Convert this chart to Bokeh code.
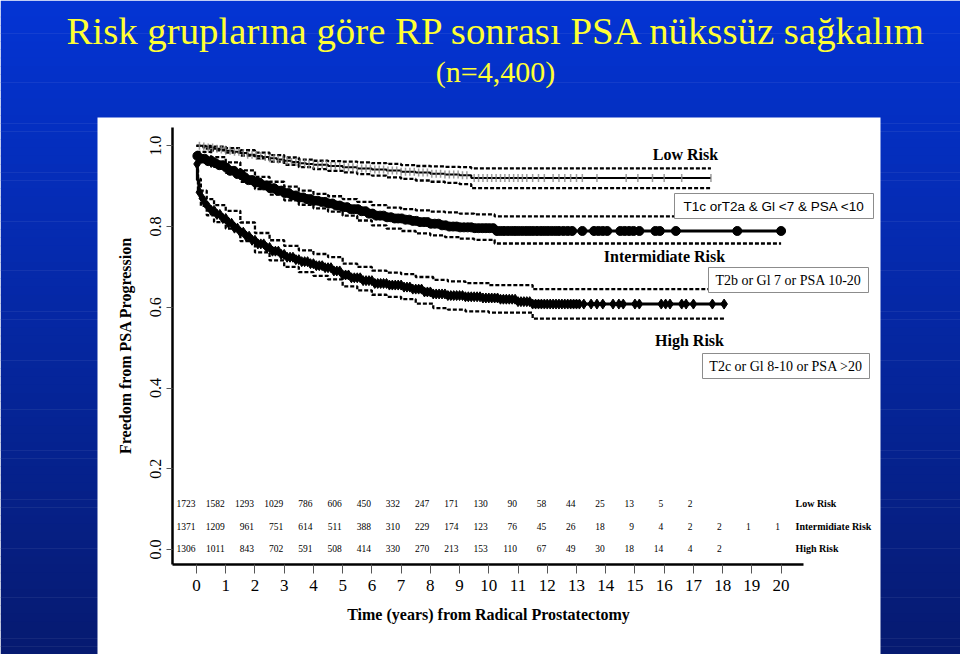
import numpy as np
from bokeh.plotting import figure
from bokeh.models import Range1d, LinearAxis, FixedTicker, Grid
from bokeh.core.properties import value
from bokeh.embed import file_html
from bokeh.resources import INLINE

# ---------------- data ----------------
title_main = "Risk gruplarına göre RP sonrası PSA nükssüz sağkalım"
title_sub = "(n=4,400)"
y_label = "Freedom from PSA Progression"
x_label = "Time (years) from Radical Prostatectomy"
x_ticks = list(range(21))
y_ticks = [0.0, 0.2, 0.4, 0.6, 0.8, 1.0]
y_tick_labels = ["0.0", "0.2", "0.4", "0.6", "0.8", "1.0"]

# Low risk Kaplan-Meier curve
low_t = [0.0, 0.2, 0.4, 0.6, 0.8, 1.0, 1.25, 1.5, 1.75, 2.0, 2.25, 2.5, 2.75, 3.0, 3.25, 3.5, 3.75,
         4.0, 4.5, 5.0, 5.5, 6.0, 6.5, 7.0, 7.5, 8.0, 8.5, 9.0, 9.4, 17.6]
low_s = [1.000, 0.998, 0.996, 0.993, 0.991, 0.988, 0.985, 0.982, 0.978, 0.975, 0.972, 0.969, 0.966,
         0.963, 0.960, 0.957, 0.955, 0.953, 0.950, 0.947, 0.944, 0.941, 0.939, 0.936, 0.934, 0.931,
         0.929, 0.927, 0.920, 0.920]
# Low risk 95% CI
low_ci_t = [0.0, 0.25, 0.5, 1.0, 1.5, 2.0, 2.5, 3.0, 3.5, 4.0, 4.5, 5.0, 5.5, 6.0, 6.5, 7.0, 7.5, 8.0, 8.5, 9.0, 9.4, 17.6]
low_up = [1.000, 1.000, 0.998, 0.994, 0.989, 0.983, 0.977, 0.971, 0.966, 0.963, 0.962, 0.961, 0.959, 0.957, 0.955, 0.952, 0.950, 0.949, 0.948, 0.947, 0.944, 0.944]
low_lo = [1.000, 0.993, 0.989, 0.983, 0.976, 0.969, 0.961, 0.953, 0.947, 0.942, 0.938, 0.934, 0.930, 0.926, 0.922, 0.918, 0.914, 0.911, 0.908, 0.905, 0.895, 0.895]
low_cens = [0.1, 0.25, 0.4, 0.55, 0.7, 0.85, 1.0, 1.15, 1.3, 1.45, 1.6, 1.75, 1.9, 2.05, 2.2, 2.35, 2.5,
            2.65, 2.8, 2.95, 3.1, 3.25, 3.4, 3.55, 3.7, 3.85, 4.0, 4.15, 4.3, 4.45, 4.6, 4.75, 4.9,
            5.05, 5.2, 5.35, 5.5, 5.65, 5.8, 5.95, 6.1, 6.25, 6.4, 6.55, 6.7, 6.85, 7.0, 7.15, 7.3,
            7.45, 7.6, 7.75, 7.9, 8.05, 8.2, 8.35, 8.5, 8.65, 8.8, 8.95, 9.1, 9.25, 9.5, 9.65, 9.8,
            9.95, 10.1, 10.25, 10.4, 10.55, 10.7, 10.85, 11.0, 11.15, 11.3, 11.5, 11.7, 11.9, 12.2,
            12.4, 12.6, 12.8, 13.0, 13.2, 13.7, 14.7, 15.1, 15.6, 16.0, 16.6, 17.6]

# Intermediate risk
int_t = [0.0, 0.15, 0.35, 0.55, 0.75, 0.95, 1.15, 1.35, 1.55, 1.75, 1.95, 2.2, 2.45, 2.7, 2.95, 3.2,
         3.45, 3.7, 3.95, 4.2, 4.45, 4.7, 4.95, 5.25, 5.55, 5.85, 6.15, 6.45, 6.75, 7.05, 7.35, 7.65,
         7.95, 8.3, 8.65, 9.0, 9.5, 10.2, 20.0]
int_s = [0.975, 0.968, 0.962, 0.957, 0.952, 0.946, 0.938, 0.930, 0.922, 0.915, 0.909, 0.902, 0.895,
         0.889, 0.883, 0.877, 0.872, 0.868, 0.864, 0.861, 0.857, 0.852, 0.848, 0.843, 0.838, 0.832,
         0.827, 0.823, 0.820, 0.817, 0.814, 0.811, 0.807, 0.803, 0.800, 0.798, 0.796, 0.789, 0.789]
int_ci_t = [0.0, 0.5, 1.0, 1.5, 2.0, 2.5, 3.0, 3.5, 4.0, 4.5, 5.0, 5.5, 6.0, 6.5, 7.0, 7.5, 8.0, 8.5, 9.0, 9.5, 10.2, 20.0]
int_up = [0.985, 0.972, 0.959, 0.939, 0.923, 0.911, 0.899, 0.889, 0.881, 0.875, 0.868, 0.861, 0.853, 0.847, 0.843, 0.840, 0.837, 0.835, 0.832, 0.830, 0.825, 0.825]
int_lo = [0.965, 0.948, 0.933, 0.911, 0.893, 0.879, 0.865, 0.854, 0.845, 0.837, 0.827, 0.815, 0.803, 0.795, 0.789, 0.783, 0.778, 0.774, 0.770, 0.767, 0.758, 0.758]
int_cens = [0.03, 0.15, 0.28, 0.4, 0.52, 0.65, 0.78, 0.9, 1.02, 1.15, 1.28, 1.4, 1.52, 1.65, 1.78, 1.9,
            2.02, 2.15, 2.28, 2.4, 2.52, 2.65, 2.78, 2.9, 3.02, 3.15, 3.28, 3.4, 3.52, 3.65, 3.78,
            3.9, 4.02, 4.15, 4.28, 4.4, 4.52, 4.65, 4.78, 4.9, 5.02, 5.15, 5.28, 5.4, 5.52, 5.65,
            5.78, 5.9, 6.02, 6.15, 6.28, 6.4, 6.52, 6.65, 6.78, 6.9, 7.02, 7.15, 7.28, 7.4, 7.52,
            7.65, 7.78, 7.9, 8.02, 8.15, 8.28, 8.4, 8.52, 8.65, 8.78, 8.9, 9.02, 9.15, 9.28, 9.4,
            9.52, 9.65, 9.78, 9.9, 10.02, 10.15, 10.28, 10.4, 10.52, 10.65, 10.78, 10.9, 11.02,
            11.15, 11.28, 11.4, 11.52, 11.65, 11.78, 11.9, 12.02, 12.15, 12.28, 12.4, 12.55, 12.7,
            12.85, 13.2, 13.6, 13.75, 13.9, 14.05, 14.5, 14.65, 14.8, 14.95, 15.15, 15.7, 15.85,
            16.4, 18.5, 20.0]

# High risk
high_t = [0.0, 0.03, 0.08, 0.15, 0.25, 0.35, 0.5, 0.7, 0.9, 1.1, 1.3, 1.5, 1.7, 1.9, 2.1, 2.35, 2.6,
          2.85, 3.1, 3.35, 3.6, 3.85, 4.1, 4.4, 4.7, 4.95, 5.3, 5.7, 6.1, 6.6, 7.1, 7.4, 7.8, 8.1,
          8.6, 9.2, 9.8, 10.4, 11.0, 11.5, 18.1]
high_s = [0.955, 0.915, 0.885, 0.870, 0.858, 0.849, 0.840, 0.830, 0.820, 0.808, 0.796, 0.786, 0.776,
          0.766, 0.757, 0.748, 0.739, 0.731, 0.724, 0.718, 0.713, 0.708, 0.703, 0.698, 0.690, 0.680,
          0.673, 0.666, 0.659, 0.655, 0.650, 0.645, 0.638, 0.633, 0.629, 0.626, 0.623, 0.620, 0.614,
          0.608, 0.608]
high_ci_t = [0.0, 0.05, 0.15, 0.35, 0.6, 1.0, 1.5, 2.0, 2.5, 3.0, 3.5, 4.0, 4.5, 5.0, 5.5, 6.0, 6.5, 7.0, 7.5, 8.1, 8.6, 9.2, 10.0, 11.5, 18.1]
high_up = [0.970, 0.918, 0.889, 0.868, 0.853, 0.839, 0.810, 0.784, 0.766, 0.752, 0.741, 0.732, 0.724, 0.708, 0.700, 0.691, 0.686, 0.682, 0.675, 0.668, 0.664, 0.660, 0.655, 0.645, 0.645]
high_lo = [0.940, 0.882, 0.851, 0.828, 0.811, 0.795, 0.764, 0.736, 0.716, 0.700, 0.687, 0.678, 0.669, 0.652, 0.642, 0.631, 0.626, 0.620, 0.609, 0.598, 0.594, 0.590, 0.587, 0.572, 0.572]
high_cens = [0.02, 0.1, 0.2, 0.3, 0.4, 0.5, 0.6, 0.7, 0.8, 0.9, 1.0, 1.1, 1.2, 1.3, 1.4, 1.5, 1.6, 1.7,
             1.8, 1.9, 2.0, 2.1, 2.2, 2.3, 2.4, 2.5, 2.6, 2.7, 2.8, 2.9, 3.0, 3.1, 3.2, 3.3, 3.4, 3.5,
             3.6, 3.7, 3.8, 3.9, 4.0, 4.1, 4.2, 4.3, 4.4, 4.5, 4.6, 4.7, 4.8, 4.9, 5.0, 5.1, 5.2, 5.3,
             5.4, 5.5, 5.6, 5.7, 5.8, 5.9, 6.0, 6.1, 6.2, 6.3, 6.4, 6.5, 6.6, 6.7, 6.8, 6.9, 7.0, 7.1,
             7.2, 7.3, 7.4, 7.5, 7.6, 7.7, 7.8, 7.9, 8.0, 8.1, 8.2, 8.3, 8.4, 8.5, 8.6, 8.7, 8.8, 8.9,
             9.0, 9.1, 9.2, 9.3, 9.4, 9.5, 9.6, 9.7, 9.8, 9.9, 10.0, 10.1, 10.2, 10.3, 10.4, 10.5,
             10.6, 10.7, 10.8, 10.9, 11.0, 11.1, 11.2, 11.3, 11.4, 11.5, 11.6, 11.7, 11.8, 11.9, 12.0,
             12.1, 12.2, 12.3, 12.4, 12.5, 12.6, 12.7, 12.8, 12.9, 13.0, 13.1, 13.25, 13.5, 13.7,
             13.9, 14.25, 14.45, 14.6, 15.0, 15.15, 15.9, 16.05, 16.2, 16.6, 16.75, 17.0, 17.65, 18.05]

# Numbers at risk
risk_rows = ["Low Risk", "Intermidiate Risk", "High Risk"]
n_low = [1723, 1582, 1293, 1029, 786, 606, 450, 332, 247, 171, 130, 90, 58, 44, 25, 13, 5, 2]
n_int = [1371, 1209, 961, 751, 614, 511, 388, 310, 229, 174, 123, 76, 45, 26, 18, 9, 4, 2, 2, 1, 1]
n_high = [1306, 1011, 843, 702, 591, 508, 414, 330, 270, 213, 153, 110, 67, 49, 30, 18, 14, 4, 2]

group_names = ["Low Risk", "Intermidiate Risk", "High Risk"]
group_defs = ["T1c orT2a & Gl <7 & PSA <10", "T2b or Gl 7 or PSA 10-20", "T2c or Gl 8-10 or PSA >20"]

# ---------------- layout constants (pixels) ----------------
W, H = 960, 654
X0, PXY = 196.0, 29.23      # pixel of t=0, pixels per year
Y0, PYV = 549.0, 403.7      # pixel of S=0, pixels per unit survival
SERIF = value("Liberation Serif")
SANS = value("Liberation Sans")


def t_of(px):
    return (px - X0) / PXY


def s_of(py):
    return (Y0 - py) / PYV


p = figure(width=W, height=H, output_backend="svg", toolbar_location=None,
           x_range=Range1d(t_of(0), t_of(W)), y_range=Range1d(s_of(H), s_of(0)),
           x_axis_location=None, y_axis_location=None, min_border=0,
           outline_line_color=None, background_fill_color="white", border_fill_color="#0a2a9a")
p.center = [c for c in p.center if not isinstance(c, Grid)]
p.extra_x_ranges = {"px": Range1d(0, W)}
p.extra_y_ranges = {"py": Range1d(H, 0)}

# background gradient and white panel
n_band = 80
edges = np.linspace(0, H, n_band + 1)
c_top = np.array([4, 52, 212])
c_bot = np.array([6, 26, 112])
fr = (np.arange(n_band) + 0.5) / n_band
band_cols = ["#%02x%02x%02x" % tuple(int(round(v)) for v in (c_top + (c_bot - c_top) * f)) for f in fr]
p.quad(left=0, right=W, top=edges[:-1], bottom=edges[1:] + 0.5, fill_color=band_cols,
       line_color=None, x_range_name="px", y_range_name="py")
p.quad(left=[97], right=[880], top=[117], bottom=[H], fill_color="white", line_color=None,
       x_range_name="px", y_range_name="py")

# titles
p.text(x=[496.5], y=[30], text=[title_main], text_font=SERIF, text_font_size="38.8px",
       text_color="#ffff33", text_align="center", text_baseline="middle",
       x_range_name="px", y_range_name="py")
p.text(x=[495], y=[71], text=[title_sub], text_font=SERIF, text_font_size="30px",
       text_color="#ffff33", text_align="center", text_baseline="middle",
       x_range_name="px", y_range_name="py")


def at(ts, ss, cens):
    idx = np.searchsorted(np.array(ts), np.array(cens), side="right") - 1
    return [ss[i] for i in idx]


# curves: CI bands (dashed), main steps, censor marks
for ts, up, lo in [(low_ci_t, low_up, low_lo), (int_ci_t, int_up, int_lo), (high_ci_t, high_up, high_lo)]:
    p.step(x=ts, y=up, mode="after", line_color="black", line_width=2.3, line_dash="4 2")
    p.step(x=ts, y=lo, mode="after", line_color="black", line_width=2.3, line_dash="4 2")

p.step(x=low_t, y=low_s, mode="after", line_color="black", line_width=2)
p.scatter(x=low_cens, y=at(low_t, low_s, low_cens), marker="dash", angle=np.pi / 2, size=8,
          line_color="#8a8a8a", line_width=1.5, alpha=0.85)

p.step(x=int_t, y=int_s, mode="after", line_color="black", line_width=3)
p.scatter(x=int_cens, y=at(int_t, int_s, int_cens), marker="circle", size=9,
          fill_color="black", line_color="black")

p.step(x=high_t, y=high_s, mode="after", line_color="black", line_width=3)
p.scatter(x=high_cens, y=at(high_t, high_s, high_cens), marker="diamond", size=10,
          fill_color="black", line_color="black")

# axes
yax = LinearAxis(fixed_location=t_of(172), bounds=(s_of(564), s_of(127)),
                 ticker=FixedTicker(ticks=y_ticks),
                 major_label_overrides={v: "" for v in y_ticks},
                 axis_line_width=2.5, axis_line_color="black",
                 major_tick_out=6, major_tick_in=0, minor_tick_out=0, minor_tick_in=0,
                 major_tick_line_color="#555555", major_tick_line_width=1,
                 major_label_text_font_size="1px", major_label_text_alpha=0)
p.add_layout(yax, "left")
# y tick labels, rotated (placed at the tick values through the y scale)
p.text(x=[155] * len(y_ticks), y=y_ticks, text=y_tick_labels, angle=np.pi / 2, text_font=SERIF,
       text_font_size="16px", text_align="center", text_baseline="middle", x_range_name="px")

xax = LinearAxis(fixed_location=s_of(564), bounds=(t_of(172), t_of(803)),
                 ticker=FixedTicker(ticks=x_ticks), axis_line_width=2.5, axis_line_color="black",
                 major_tick_out=9, major_tick_in=0, minor_tick_out=0, minor_tick_in=0,
                 major_tick_line_color="#555555", major_tick_line_width=1,
                 major_label_text_font="Liberation Serif", major_label_text_font_size="17px",
                 major_label_text_color="black", major_label_standoff=6)
p.add_layout(xax, "below")

p.text(x=[125], y=[345], text=[y_label], angle=np.pi / 2, text_font=SERIF, text_font_style="bold",
       text_font_size="16px", text_align="center", text_baseline="middle",
       x_range_name="px", y_range_name="py")
p.text(x=[488], y=[614], text=[x_label], text_font=SERIF, text_font_style="bold",
       text_font_size="16px", text_align="center", text_baseline="middle",
       x_range_name="px", y_range_name="py")

# numbers at risk
row_py = [503, 525.5, 548]
for counts, py, name in zip([n_low, n_int, n_high], row_py, risk_rows):
    yrs = x_ticks[:len(counts)]
    p.text(x=yrs, y=[py] * len(counts), text=[str(c) for c in counts], x_offset=-1,
           text_font=SERIF, text_font_size="9.5px", text_align="right", text_baseline="middle",
           y_range_name="py")
    p.text(x=[795], y=[py], text=[name], text_font=SERIF, text_font_style="bold",
           text_font_size="10px", text_align="left", text_baseline="middle",
           x_range_name="px", y_range_name="py")

# group labels and definition boxes
name_pos = [(685, 154), (664, 256), (689, 340)]
for name, (x, y) in zip(group_names, name_pos):
    p.text(x=[x], y=[y], text=[name], text_font=SERIF, text_font_style="bold", text_font_size="16px",
           text_align="center", text_baseline="middle", x_range_name="px", y_range_name="py")

boxes = [(674, 873, 193, 218), (708, 868, 267, 292), (702, 869, 353, 378)]
fonts = [SANS, SERIF, SERIF]
sizes = ["13.5px", "14px", "14px"]
for (l, r, t, b), txt, f, s in zip(boxes, group_defs, fonts, sizes):
    p.quad(left=[l], right=[r], top=[t], bottom=[b], fill_color="white", line_color="#8c8c8c",
           line_width=1, x_range_name="px", y_range_name="py")
    p.text(x=[(l + r) / 2], y=[(t + b) / 2], text=[txt], text_font=f, text_font_size=s,
           text_align="center", text_baseline="middle", x_range_name="px", y_range_name="py")

open("out.html", "w").write(file_html(p, INLINE))
